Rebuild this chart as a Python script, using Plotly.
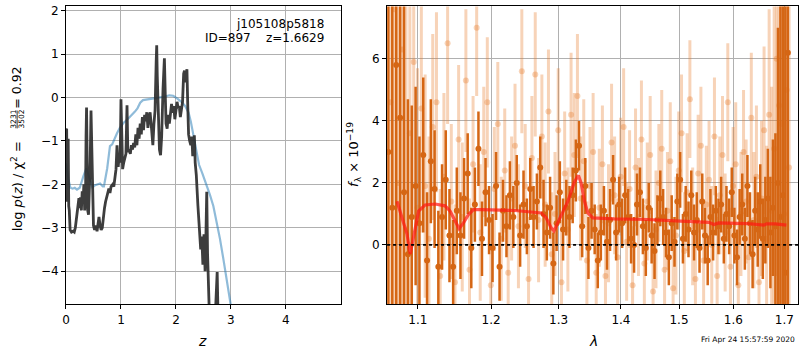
import plotly.graph_objects as go

# ---------------- left panel: redshift PDF ----------------
pz_z = [0.000, 0.012, 0.025, 0.040, 0.050, 0.060, 0.075, 0.100, 0.130, 0.150,
        0.170, 0.190, 0.205, 0.220, 0.235, 0.250, 0.265, 0.280, 0.295, 0.310,
        0.325, 0.340, 0.355, 0.365, 0.374, 0.383, 0.395, 0.410, 0.420, 0.440,
        0.455, 0.465, 0.480, 0.500, 0.520, 0.545, 0.565, 0.585, 0.600, 0.620,
        0.640, 0.660, 0.675, 0.700, 0.720, 0.740, 0.760, 0.780, 0.800, 0.820,
        0.850, 0.870, 0.890, 0.910, 0.928, 0.950, 0.970, 0.985, 1.000, 1.015,
        1.030, 1.050, 1.070, 1.090, 1.110, 1.125, 1.150, 1.170, 1.190, 1.210,
        1.230, 1.250, 1.270, 1.290, 1.310, 1.330, 1.350, 1.370, 1.390, 1.410,
        1.430, 1.450, 1.470, 1.490, 1.510, 1.530, 1.555, 1.580, 1.600, 1.620,
        1.640, 1.650, 1.660, 1.680, 1.700, 1.720, 1.740, 1.765, 1.790, 1.805,
        1.820, 1.840, 1.860, 1.880, 1.900, 1.920, 1.940, 1.960, 1.980, 2.000,
        2.020, 2.040, 2.060, 2.080, 2.100, 2.120, 2.140, 2.155, 2.170, 2.185,
        2.200, 2.215, 2.230, 2.250, 2.270, 2.290, 2.305, 2.320, 2.335, 2.350,
        2.370, 2.400, 2.430, 2.450, 2.470, 2.490, 2.510, 2.530, 2.545, 2.560,
        2.575, 2.595, 2.620, 2.700, 2.735, 2.750, 2.765, 2.800, 3.500, 5.000]
pz_logp = [-0.75, -0.72, -2.40, -0.95, -2.50, -2.60, -3.05, -3.10, -3.08, -3.10,
           -3.00, -2.75, -2.70, -2.35, -2.32, -2.55, -2.30, -2.60, -2.16, -2.45,
           -2.00, -2.60, -2.40, -0.90, -0.23, -1.20, -2.60, -2.70, -2.40, -1.50,
           -0.30, -1.00, -2.40, -2.95, -3.05, -2.95, -3.08, -2.80, -2.75, -2.95,
           -3.05, -3.00, -2.80, -2.55, -2.40, -2.30, -2.15, -2.10, -2.20, -2.05,
           -2.00, -2.05, -1.85, -1.65, -1.10, -1.60, -1.30, -1.50, -0.04, -1.10,
           -1.65, -1.50, -1.35, -1.30, -0.18, -1.25, -1.20, -1.30, -1.10, -1.20,
           -1.05, -1.15, -0.85, -1.10, -0.70, -0.95, -0.60, -0.85, -0.45, -0.75,
           -0.40, -0.55, -0.34, -0.70, -0.45, -0.34, -0.70, -1.10, -0.60, -0.30,
           0.80, 1.20, 0.50, -0.50, -1.20, -1.33, -0.90, 0.20, 0.90, 0.10,
           -0.60, -0.72, -0.40, -0.60, -0.30, -0.15, -0.35, -0.20, -0.50, -0.35,
           -0.10, -0.25, -0.20, -0.45, -0.30, -0.10, 0.55, 0.62, 0.35, 0.55,
           0.65, -0.20, -0.85, -1.00, -1.10, -0.90, -1.35, -1.20, -0.87, -1.50,
           -1.78, -2.50, -3.15, -3.50, -3.20, -3.85, -3.15, -4.00, -3.20, -2.17,
           -3.60, -4.40, -5.50, -5.50, -4.50, -4.02, -5.00, -6.50, -10.0, -20.0]

prior_z = [0.00, 0.04, 0.08, 0.12, 0.16, 0.20, 0.25, 0.28, 0.32, 0.37,
           0.40, 0.44, 0.48, 0.53, 0.58, 0.62, 0.67, 0.69, 0.75, 0.80,
           0.84, 0.88, 0.93, 0.98, 1.05, 1.12, 1.18, 1.25, 1.30, 1.35,
           1.40, 1.50, 1.60, 1.70, 1.80, 1.88, 1.95, 2.02, 2.10, 2.17,
           2.23, 2.27, 2.30, 2.33, 2.37, 2.42, 2.48, 2.55, 2.62, 2.68,
           2.74, 2.80, 2.86, 2.92, 2.98, 3.05, 3.50]
prior_logp = [-1.52, -1.86, -2.08, -2.10, -2.08, -2.12, -2.08, -1.95, -1.80, -1.63,
              -1.75, -1.95, -2.07, -2.02, -2.00, -1.98, -2.05, -2.05, -1.63, -1.12,
              -1.08, -0.95, -0.82, -0.70, -0.58, -0.50, -0.43, -0.33, -0.25, -0.12,
              -0.06, -0.04, -0.02, -0.01, 0.02, 0.05, 0.04, -0.02, -0.10, -0.20,
              -0.35, -0.55, -0.75, -1.00, -1.30, -1.55, -1.75, -1.98, -2.25, -2.50,
              -2.85, -3.25, -3.70, -4.15, -4.65, -5.20, -10.0]

z_ticks = [0, 1, 2, 3, 4]
logp_ticks = [-4, -3, -2, -1, 0, 1, 2]

# ---------------- right panel: spectrum ----------------
dark_wave = [1.062, 1.067, 1.072, 1.077, 1.082, 1.087, 1.092, 1.097, 1.102, 1.107,
             1.112, 1.117, 1.122, 1.127, 1.132, 1.137, 1.142, 1.147, 1.152, 1.157,
             1.162, 1.167, 1.172, 1.177, 1.182, 1.187, 1.192, 1.197, 1.202, 1.207,
             1.212, 1.217, 1.222, 1.227, 1.232, 1.237, 1.242, 1.247, 1.252, 1.257,
             1.262, 1.267, 1.272, 1.277, 1.282, 1.287, 1.292, 1.297, 1.302, 1.307,
             1.312, 1.317, 1.322, 1.327, 1.332, 1.337, 1.342, 1.347, 1.352, 1.357,
             1.362, 1.367, 1.372, 1.377, 1.382, 1.387, 1.392, 1.397, 1.402, 1.407,
             1.412, 1.417, 1.422, 1.427, 1.432, 1.437, 1.442, 1.447, 1.452, 1.457,
             1.462, 1.467, 1.472, 1.477, 1.482, 1.487, 1.492, 1.497, 1.502, 1.507,
             1.512, 1.517, 1.522, 1.527, 1.532, 1.537, 1.542, 1.547, 1.552, 1.557,
             1.562, 1.567, 1.572, 1.577, 1.582, 1.587, 1.592, 1.597, 1.602, 1.607,
             1.612, 1.617, 1.622, 1.627, 1.632, 1.637, 1.642, 1.647, 1.652, 1.657,
             1.662, 1.667, 1.672, 1.677, 1.682, 1.687, 1.692, 1.697, 1.702, 1.707]
dark_flux = [3.0, 1.2, 5.8, 4.1, 1.7, -0.3, 0.9, 1.9, 0.7, 2.9,
             -0.5, 2.7, 1.8, -0.7, 0.9, 2.1, 0.3, -0.7, 1.1, 0.3,
             1.5, 2.3, -0.1, 1.3, 3.1, 0.2, 1.7, 0.8, -0.1, 1.9,
             -0.7, 1.1, 0.6, 1.6, 0.9, 2.0, 0.3, 1.3, 0.6, 1.8,
             0.9, 1.4, 2.5, 1.0, 0.4, 1.2, -0.6, 0.7, 1.7, 0.5,
             1.2, 0.9, 1.6, 2.4, 3.2, 0.6, 1.9, -0.1, 1.1, 0.5,
             -0.5, 0.4, 1.1, 0.1, 0.8, 2.1, 0.4, 1.3, 0.7, 1.6,
             0.9, 0.2, 0.0, 1.3, 1.7, 0.6, -0.1, 1.2, 0.3, -0.2,
             0.8, 1.5, 0.9, 0.4, -0.4, 0.7, 0.1, 1.4, 2.1, 0.2,
             1.0, 0.5, 1.6, 0.4, 0.8, -0.1, 1.4, 0.3, -0.5, 0.9,
             0.4, 1.1, 0.6, 1.3, 0.2, 1.0, 0.6, 1.7, 0.3, -0.4,
             0.9, 1.3, 0.2, 1.9, 0.7, -0.3, 1.1, 0.5, 1.4, 0.2,
             0.8, 1.5, 0.4, 1.2, 0.6, 2.0, 0.9, 1.6, -0.9, 6.2]
dark_err = [14.0, 14.0, 12.0, 10.0, 8.0, 5.0, 3.6, 3.2, 2.8, 2.5,
            2.2, 2.0, 1.9, 1.8, 1.7, 1.6, 1.5, 1.5, 1.4, 1.4,
            1.3, 1.3, 1.3, 1.2, 1.2, 1.2, 1.1, 1.1, 1.1, 1.1,
            1.1, 1.0, 1.0, 1.1, 1.0, 0.9, 1.0, 1.1, 0.9, 1.0,
            1.0, 0.9, 1.0, 1.1, 0.9, 1.0, 1.0, 0.9, 1.0, 1.0,
            0.9, 1.0, 0.9, 1.0, 0.8, 1.0, 0.9, 1.0, 0.9, 0.8,
            0.9, 0.9, 0.8, 0.9, 1.0, 0.8, 0.9, 0.9, 0.8, 0.9,
            0.9, 0.8, 0.9, 1.0, 0.8, 0.9, 0.9, 0.8, 0.9, 0.9,
            0.8, 0.9, 0.9, 0.8, 0.9, 0.9, 0.8, 0.9, 0.9, 0.8,
            0.9, 0.9, 0.8, 0.9, 0.9, 0.8, 0.9, 0.9, 0.8, 0.9,
            0.9, 0.8, 0.9, 0.9, 0.8, 0.9, 0.9, 0.8, 0.9, 0.9,
            0.9, 1.0, 1.0, 1.0, 1.0, 1.1, 1.1, 1.2, 1.2, 1.3,
            1.4, 1.6, 1.8, 2.2, 3.0, 5.0, 8.0, 11.0, 13.0, 14.0]

light_wave = [1.0645, 1.0695, 1.0745, 1.0795, 1.0845, 1.0895, 1.0945, 1.0995, 1.1045, 1.1095,
              1.1145, 1.1195, 1.1245, 1.1295, 1.1345, 1.1395, 1.1445, 1.1495, 1.1545, 1.1595,
              1.1645, 1.1695, 1.1745, 1.1795, 1.1845, 1.1895, 1.1945, 1.1995, 1.2045, 1.2095,
              1.2145, 1.2195, 1.2245, 1.2295, 1.2345, 1.2395, 1.2445, 1.2495, 1.2545, 1.2595,
              1.2645, 1.2695, 1.2745, 1.2795, 1.2845, 1.2895, 1.2945, 1.2995, 1.3045, 1.3095,
              1.3145, 1.3195, 1.3245, 1.3295, 1.3345, 1.3395, 1.3445, 1.3495, 1.3545, 1.3595,
              1.3645, 1.3695, 1.3745, 1.3795, 1.3845, 1.3895, 1.3945, 1.3995, 1.4045, 1.4095,
              1.4145, 1.4195, 1.4245, 1.4295, 1.4345, 1.4395, 1.4445, 1.4495, 1.4545, 1.4595,
              1.4645, 1.4695, 1.4745, 1.4795, 1.4845, 1.4895, 1.4945, 1.4995, 1.5045, 1.5095,
              1.5145, 1.5195, 1.5245, 1.5295, 1.5345, 1.5395, 1.5445, 1.5495, 1.5545, 1.5595,
              1.5645, 1.5695, 1.5745, 1.5795, 1.5845, 1.5895, 1.5945, 1.5995, 1.6045, 1.6095,
              1.6145, 1.6195, 1.6245, 1.6295, 1.6345, 1.6395, 1.6445, 1.6495, 1.6545, 1.6595,
              1.6645, 1.6695, 1.6745, 1.6795, 1.6845, 1.6895, 1.6945, 1.6995, 1.7045, 1.7095]
light_flux = [4.6, 7.6, 2.0, 6.3, 0.5, 3.6, 5.9, 1.2, 4.4, 1.9,
              0.2, 3.8, 4.6, -1.0, 2.2, 6.5, 1.4, -1.2, 3.4, 0.9,
              5.3, -0.8, 2.6, 7.0, 0.4, 3.0, 4.6, -1.3, 1.8, 3.9,
              0.2, 2.4, -0.9, 1.5, 3.2, 0.6, 5.6, 1.9, -1.1, 2.8,
              5.5, 0.8, 3.5, 1.3, 4.3, -0.3, 1.0, 3.7, -1.2, 2.3,
              0.5, 4.2, 2.9, 4.8, 1.5, 2.7, -0.5, 1.9, 3.0, -0.9,
              1.2, 2.6, -1.0, 0.7, 3.3, 1.6, -0.4, 2.2, 3.8, 0.1,
              1.8, -1.3, 2.5, 0.9, 3.4, -0.6, 1.4, 2.9, -1.5, 0.5,
              2.0, 3.1, -0.8, 1.1, 2.7, -1.4, 0.3, 2.4, 3.6, -0.2,
              1.7, 4.7, 0.6, -1.1, 2.3, 3.2, -0.5, 1.3, 2.1, 0.0,
              3.5, -1.0, 1.6, 2.9, 0.4, 4.6, -0.7, 1.9, 2.6, -1.3,
              1.0, 3.0, 1.4, -0.4, 4.1, 0.8, 2.2, -1.2, 1.5, 3.7,
              0.2, 4.2, 1.1, 3.1, 6.0, 4.5, 3.9, 1.0, 5.0, 2.5]
light_err = [14.0, 14.0, 12.0, 10.0, 8.0, 6.0, 5.0, 4.5, 4.0, 3.6,
             3.3, 3.0, 2.9, 2.8, 2.7, 2.6, 2.5, 2.5, 2.4, 2.4,
             2.3, 2.3, 2.2, 2.2, 2.2, 2.1, 2.1, 2.1, 2.0, 2.0,
             2.0, 2.0, 2.0, 2.0, 2.0, 2.0, 2.0, 2.0, 2.0, 2.0,
             2.0, 2.0, 2.0, 2.0, 2.0, 2.0, 2.0, 2.0, 2.0, 2.0,
             2.0, 2.0, 2.0, 2.0, 2.0, 2.0, 1.9, 1.9, 1.9, 1.9,
             1.9, 1.9, 1.9, 1.9, 1.9, 1.9, 1.9, 1.9, 1.9, 1.9,
             1.9, 1.9, 1.9, 1.9, 1.9, 1.9, 1.9, 1.9, 1.9, 1.9,
             1.9, 1.9, 1.9, 1.9, 1.9, 1.9, 1.9, 1.9, 1.9, 1.9,
             1.9, 1.9, 1.9, 1.9, 1.9, 1.9, 1.9, 1.9, 1.9, 1.9,
             1.9, 1.9, 1.9, 1.9, 1.9, 1.9, 1.9, 1.9, 2.0, 2.0,
             2.0, 2.0, 2.0, 2.1, 2.1, 2.2, 2.3, 2.4, 2.5, 2.7,
             3.0, 3.4, 4.0, 5.0, 7.0, 9.0, 11.0, 13.0, 14.0, 14.0]

model_wave = [1.0730, 1.0794, 1.0858, 1.0900, 1.0942, 1.1009, 1.1095, 1.1228, 1.1361, 1.1429,
              1.1498, 1.1552, 1.1612, 1.1681, 1.1750, 1.1866, 1.2343, 1.2736, 1.2811, 1.2887,
              1.2929, 1.2990, 1.3145, 1.3249, 1.3311, 1.3354, 1.3406, 1.3460, 1.3540, 1.3890,
              1.4446, 1.5029, 1.5540, 1.5633, 1.5726, 1.6268, 1.6590, 1.6650, 1.6820, 1.7040]
model_flux = [1.41, 0.87, 0.35, -0.29, 0.23, 1.09, 1.29, 1.32, 1.26, 1.09,
              0.77, 0.52, 0.71, 0.98, 1.14, 1.14, 1.11, 1.03, 0.87, 0.55,
              0.45, 0.71, 1.41, 2.04, 2.24, 1.99, 1.41, 1.03, 0.87, 0.84,
              0.82, 0.77, 0.73, 0.66, 0.71, 0.69, 0.64, 0.68, 0.68, 0.64]

wave_ticks = [1.1, 1.2, 1.3, 1.4, 1.5, 1.6, 1.7]
flux_ticks = [0, 2, 4, 6]

# ---------------- figure ----------------
W, H = 800, 350
def px(x):
    return x / W
def py(y):
    return 1 - y / H

FONT = "DejaVu Sans, Verdana, sans-serif"
DARK = "rgb(213,102,20)"
LIGHT = "rgba(232,122,40,0.33)"

fig = go.Figure()

fig.add_trace(go.Scatter(x=prior_z, y=prior_logp, mode="lines",
                         line=dict(color="rgba(31,119,180,0.5)", width=2.2),
                         xaxis="x", yaxis="y", hoverinfo="skip"))
fig.add_trace(go.Scatter(x=pz_z, y=pz_logp, mode="lines",
                         line=dict(color="rgba(45,45,45,0.92)", width=2.8),
                         xaxis="x", yaxis="y", hoverinfo="skip"))

fig.add_trace(go.Scatter(x=light_wave, y=light_flux, mode="markers",
                         marker=dict(color=LIGHT, size=6, line=dict(width=0)),
                         error_y=dict(type="data", array=light_err, visible=True,
                                      thickness=3, width=0, color=LIGHT),
                         xaxis="x2", yaxis="y2", hoverinfo="skip"))
fig.add_trace(go.Scatter(x=dark_wave, y=dark_flux, mode="markers",
                         marker=dict(color=DARK, size=6, line=dict(width=0)),
                         error_y=dict(type="data", array=dark_err, visible=True,
                                      thickness=2.5, width=0, color=DARK),
                         xaxis="x2", yaxis="y2", hoverinfo="skip"))
fig.add_trace(go.Scatter(x=model_wave, y=model_flux, mode="lines",
                         line=dict(color="rgba(255,25,20,0.72)", width=3.2),
                         xaxis="x2", yaxis="y2", hoverinfo="skip"))

axis_common = dict(showline=True, mirror=True, linecolor="black", linewidth=1,
                   ticks="outside", ticklen=4, tickwidth=1, tickcolor="black",
                   showgrid=True, gridcolor="#b0b0b0", gridwidth=1, zeroline=False,
                   tickfont=dict(family=FONT, size=12, color="black"))

ydom = [py(304), py(3.5)]
fig.update_layout(
    width=W, height=H,
    margin=dict(l=0, r=0, t=0, b=0),
    paper_bgcolor="white", plot_bgcolor="white",
    showlegend=False,
    font=dict(family=FONT, size=12, color="black"),
    xaxis=dict(domain=[px(62.3), px(338.3)], range=[0, 4.995], tickvals=z_ticks,
               anchor="y", **axis_common),
    yaxis=dict(domain=ydom, range=[-4.765, 2.096], tickvals=logp_ticks,
               anchor="x", **axis_common),
    xaxis2=dict(domain=[px(385), px(798)], type="log", range=[0.02548, 0.23748],
                tickvals=wave_ticks, ticktext=[str(v) for v in wave_ticks],
                anchor="y2", **axis_common),
    yaxis2=dict(domain=ydom, range=[-1.918, 7.69], tickvals=flux_ticks,
                anchor="x2", **axis_common),
)

# zero line
fig.add_shape(type="line", xref="x2 domain", x0=0, x1=1, yref="y2", y0=0, y1=0,
              line=dict(color="black", width=1.6, dash="dot"))

ann = []
def A(text, x, y, size, angle=0, xanchor="center", yanchor="middle"):
    ann.append(dict(text=text, x=px(x), y=py(y), xref="paper", yref="paper",
                    showarrow=False, textangle=angle, xanchor=xanchor, yanchor=yanchor,
                    font=dict(family=FONT, size=size, color="black")))

A("j105108p5818", 323.5, 21, 12, xanchor="right")
A("ID=897\u00a0\u00a0\u00a0\u00a0z=1.6629", 323.5, 35.5, 12, xanchor="right")
A("<i>z</i>", 199, 341, 14)
A("<i>λ</i>", 592, 341, 14)
A("log\u00a0<i>p</i>(<i>z</i>)\u00a0/\u00a0χ<sup>2</sup>\u00a0=", 12.5, 184.5, 13, angle=-90)
A("3231", 9.2, 117.5, 7.5, angle=-90)
A("3502", 17.2, 117.5, 7.5, angle=-90)
A("=\u00a00.92", 12.5, 85, 12.5, angle=-90)
A("<i>f</i><sub>λ</sub>\u00a0×\u00a010<sup>−19</sup>", 351, 153, 13, angle=-90)
A("Fri Apr 24 15:57:59 2020", 797, 339.5, 7.5, xanchor="right")
fig.update_layout(annotations=ann)

# fraction bar in y-axis label
fig.add_shape(type="line", xref="paper", yref="paper",
              x0=px(13.2), x1=px(13.2), y0=py(108.5), y1=py(126.5),
              line=dict(color="black", width=0.8))

fig.write_html("out.html", config={"displayModeBar": False},
               post_script="document.body.style.margin='0';document.body.style.overflow='hidden';")
